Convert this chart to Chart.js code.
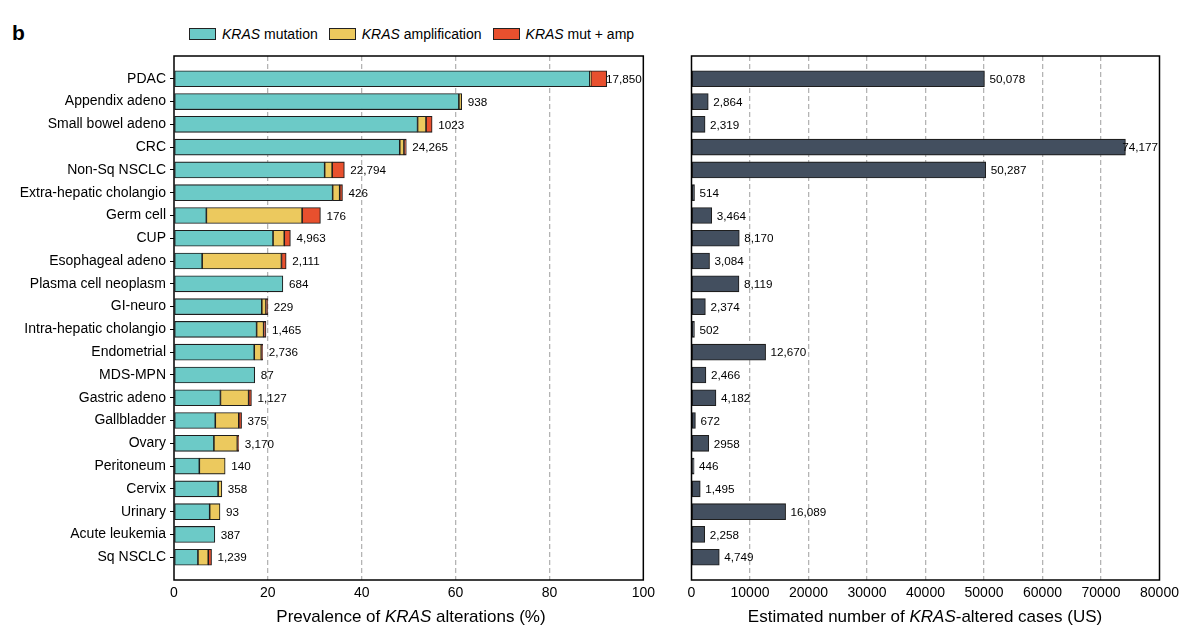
<!DOCTYPE html>
<html>
<head>
<meta charset="utf-8">
<script src="https://cdn.jsdelivr.net/npm/chart.js@4.4.1/dist/chart.umd.min.js"></script>
<style>
  html, body { margin: 0; padding: 0; background: #fff; }
  body { width: 1200px; height: 643px; position: relative; overflow: hidden; font-family: "Liberation Sans", Arial, sans-serif; color: #000; }
  #c1 { position: absolute; left: 0; top: 0; }
  #c2 { position: absolute; left: 660px; top: 0; }
  .panel-letter { position: absolute; left: 12px; top: 21px; font-size: 21px; font-weight: bold; }
  #legend { position: absolute; left: 189px; top: 26px; display: flex; align-items: center; font-size: 14px; white-space: nowrap; }
  .lg-item { display: flex; align-items: center; margin-right: 11px; }
  .lg-box { width: 25px; height: 10px; border: 1px solid #222; margin-right: 6px; }
  .axis-title { position: absolute; top: 607px; font-size: 17px; white-space: nowrap; transform: translateX(-50%); }
</style>
</head>
<body>
<div class="panel-letter">b</div>
<div id="legend"></div>
<canvas id="c1" width="660" height="643"></canvas>
<canvas id="c2" width="540" height="643"></canvas>
<div class="axis-title" style="left:411px">Prevalence of <i>KRAS</i> alterations (%)</div>
<div class="axis-title" style="left:925px">Estimated number of <i>KRAS</i>-altered cases (US)</div>
<script>
// ---------------- DATA ----------------
const categories = ["PDAC","Appendix adeno","Small bowel adeno","CRC","Non-Sq NSCLC","Extra-hepatic cholangio","Germ cell","CUP","Esophageal adeno","Plasma cell neoplasm","GI-neuro","Intra-hepatic cholangio","Endometrial","MDS-MPN","Gastric adeno","Gallbladder","Ovary","Peritoneum","Cervix","Urinary","Acute leukemia","Sq NSCLC"];
const seriesNames = ["mutation","amplification","mut + amp"];
const mutation      = [88.6, 60.7, 51.9, 48.1, 32.1, 33.8, 6.9, 21.1, 6.0, 23.2, 18.7, 17.6, 17.1, 17.2, 9.9, 8.8, 8.5, 5.4, 9.4, 7.6, 8.7, 5.1];
const amplification = [0.2, 0.6, 1.8, 0.9, 1.6, 1.5, 20.4, 2.4, 16.9, 0, 0.9, 1.5, 1.5, 0, 6.0, 5.0, 5.0, 5.5, 0.8, 2.2, 0, 2.2];
const mutAmp        = [3.4, 0, 1.3, 0.5, 2.6, 0.6, 3.9, 1.3, 1.0, 0, 0.4, 0.5, 0.3, 0, 0.6, 0.6, 0.3, 0, 0, 0, 0, 0.7];
const sampleSizeLabels = ["17,850","938","1023","24,265","22,794","426","176","4,963","2,111","684","229","1,465","2,736","87","1,127","375","3,170","140","358","93","387","1,239"];
const usCases       = [50078, 2864, 2319, 74177, 50287, 514, 3464, 8170, 3084, 8119, 2374, 502, 12670, 2466, 4182, 672, 2958, 446, 1495, 16089, 2258, 4749];
const usCaseLabels  = ["50,078","2,864","2,319","74,177","50,287","514","3,464","8,170","3,084","8,119","2,374","502","12,670","2,466","4,182","672","2958","446","1,495","16,089","2,258","4,749"];
const prevalenceTicks = [0, 20, 40, 60, 80, 100];
const casesTicks = [0, 10000, 20000, 30000, 40000, 50000, 60000, 70000, 80000];

// ---------------- STYLE ----------------
const FONT = "'Liberation Sans', Arial, sans-serif";
const colors = ["#6CCAC7", "#ECC95E", "#E8502E"];
const darkBar = "#434F5F";
const edge = "#1e1e1e";

// legend built from series names / colours
const legendEl = document.getElementById('legend');
seriesNames.forEach((n, i) => {
  const it = document.createElement('div'); it.className = 'lg-item';
  const b = document.createElement('div'); b.className = 'lg-box'; b.style.background = colors[i];
  const t = document.createElement('span'); t.innerHTML = '<i>KRAS</i> ' + n;
  it.appendChild(b); it.appendChild(t); legendEl.appendChild(it);
});

const toPts = arr => arr.map((v, i) => ({ y: i, x: v > 0 ? v : null }));

const frame = {
  id: 'frame',
  afterDraw(chart) {
    const { ctx, chartArea: a } = chart;
    ctx.save();
    ctx.strokeStyle = '#000'; ctx.lineWidth = 1.5;
    ctx.strokeRect(a.left, a.top, a.right - a.left, a.bottom - a.top);
    ctx.restore();
  }
};

function valueLabels(getTotal, labels, gap) {
  return {
    id: 'valueLabels',
    afterDatasetsDraw(chart) {
      const { ctx, chartArea: a } = chart;
      const xs = chart.scales.x, ys = chart.scales.y;
      ctx.save();
      ctx.font = "11.7px " + FONT;
      ctx.fillStyle = '#000';
      ctx.textBaseline = 'middle';
      ctx.textAlign = 'left';
      labels.forEach((lab, i) => {
        let x = xs.getPixelForValue(getTotal(i)) + gap;
        const w = ctx.measureText(lab).width;
        if (x + w > a.right - 1.5) x = a.right - 1.5 - w;
        ctx.fillText(lab, x, ys.getPixelForValue(i) + 1);
      });
      ctx.restore();
    }
  };
}

function yScale(showLabels) {
  return {
    type: 'linear', reverse: true, min: -1, max: 22, stacked: true, offset: false,
    display: showLabels,
    afterBuildTicks: s => { s.ticks = categories.map((_, i) => ({ value: i })); },
    afterFit: s => { if (showLabels) s.width = 174; },
    ticks: { autoSkip: false, padding: 4, color: '#000', font: { family: FONT, size: 14 }, callback: v => categories[v] },
    grid: { offset: false, drawOnChartArea: false, drawTicks: true, tickLength: 4, color: '#000', lineWidth: 1 },
    border: { display: false }
  };
}

function xScale(min, max, ticksArr, stacked) {
  return {
    type: 'linear', min, max, stacked,
    afterBuildTicks: s => { s.ticks = ticksArr.map(v => ({ value: v })); },
    afterFit: s => { s.height = 63; },
    ticks: { padding: 5, color: '#000', font: { family: FONT, size: 14 }, callback: v => String(v), maxRotation: 0 },
    grid: {
      drawTicks: false,
      color: c => (c.tick && (c.tick.value === min || c.tick.value === max)) ? 'rgba(0,0,0,0)' : '#b4b4b4',
      lineWidth: 1.3
    },
    border: { display: false, dash: [5, 3] }
  };
}

Chart.defaults.font.family = FONT;
Chart.defaults.animation = false;

new Chart(document.getElementById('c1'), {
  type: 'bar',
  data: {
    datasets: [
      { label: seriesNames[0], data: toPts(mutation), backgroundColor: colors[0] },
      { label: seriesNames[1], data: toPts(amplification), backgroundColor: colors[1] },
      { label: seriesNames[2], data: toPts(mutAmp), backgroundColor: colors[2] }
    ].map(d => Object.assign(d, { borderColor: edge, borderWidth: 1.1, borderSkipped: false, barThickness: 16 }))
  },
  options: {
    indexAxis: 'y',
    responsive: false,
    layout: { padding: { top: 56, right: 12, left: 0, bottom: 0 } },
    plugins: { legend: { display: false }, tooltip: { enabled: false } },
    scales: { x: xScale(0, 100, prevalenceTicks, true), y: yScale(true) }
  },
  plugins: [frame, valueLabels(i => mutation[i] + amplification[i] + mutAmp[i], sampleSizeLabels, 6)]
});

new Chart(document.getElementById('c2'), {
  type: 'bar',
  data: {
    datasets: [
      { label: 'cases', data: toPts(usCases), backgroundColor: darkBar, borderColor: edge, borderWidth: 1.1, borderSkipped: false, barThickness: 16 }
    ]
  },
  options: {
    indexAxis: 'y',
    responsive: false,
    layout: { padding: { top: 56, right: 40.5, left: 31.5, bottom: 0 } },
    plugins: { legend: { display: false }, tooltip: { enabled: false } },
    scales: { x: xScale(0, 80000, casesTicks, false), y: yScale(false) }
  },
  plugins: [frame, valueLabels(i => usCases[i], usCaseLabels, 5)]
});
</script>
</body>
</html>
